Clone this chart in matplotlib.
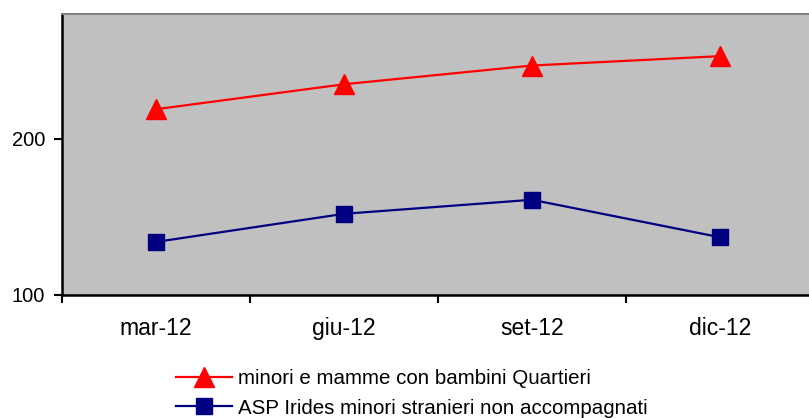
import matplotlib
matplotlib.use("Agg")
import matplotlib.pyplot as plt

# Data
months = ['mar-12', 'giu-12', 'set-12', 'dic-12']
quartieri = [219, 235, 247, 253]
asp_irides = [134, 152, 161, 137]
yticks = [100, 200]

plt.rcParams['font.family'] = ['Liberation Sans', 'DejaVu Sans']

fig = plt.figure(figsize=(8.09, 4.18), dpi=100)
# axes runs past the right edge, as in the cropped original
ax = fig.add_axes([62 / 809, 1 - 295 / 418, 752 / 809, 281 / 418])
ax.set_facecolor('#C0C0C0')

x = list(range(len(months)))
ax.plot(x, quartieri, color='#FF0000', lw=1.6, marker='^', ms=14,
        label='minori e mamme con bambini Quartieri')
ax.plot(x, asp_irides, color='#000080', lw=1.6, marker='s', ms=11,
        label='ASP Irides minori stranieri non accompagnati')

ax.set_xlim(-0.5, len(months) - 0.5)
ax.set_ylim(100, 280)
ax.set_yticks(yticks)
ax.set_yticklabels([str(v) for v in yticks], fontsize=14.5)

# category labels centred, tick marks between categories
ax.set_xticks([i - 0.5 for i in range(len(months) + 1)])
ax.set_xticklabels([])
ax.set_xticks(x, minor=True)
ax.set_xticklabels(months, minor=True, fontsize=16.5)
ax.tick_params(axis='x', which='minor', length=0, pad=16)
ax.tick_params(axis='x', which='major', length=6, width=1.5, direction='out')
ax.tick_params(axis='y', length=6, width=1.5, direction='out', pad=6)

for s in ['left', 'bottom']:
    ax.spines[s].set_color('black')
    ax.spines[s].set_linewidth(1.8)
ax.spines['top'].set_color('#808080')
ax.spines['top'].set_linewidth(1.5)
ax.spines['right'].set_visible(False)

fig.legend(loc='upper left', bbox_to_anchor=(176 / 809, 1 - 369 / 418),
           frameon=False, fontsize=14.8, handlelength=2.7, handletextpad=0.3,
           labelspacing=0.52, borderaxespad=0, borderpad=0)

fig.savefig('out.png', dpi=100)
